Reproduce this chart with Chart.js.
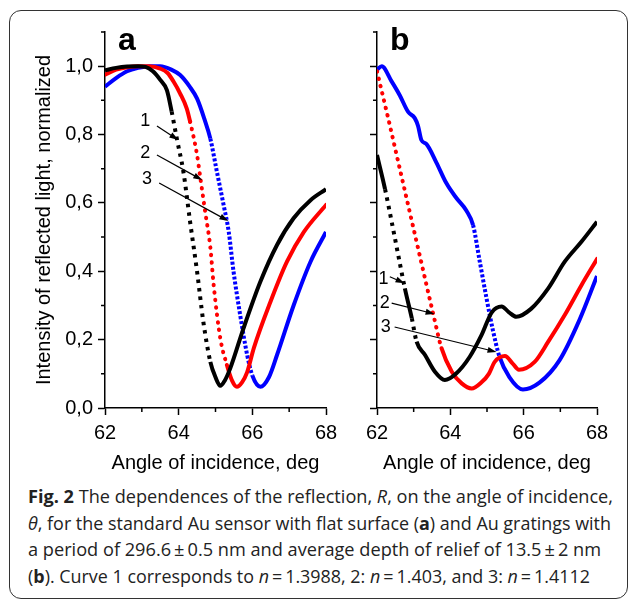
<!DOCTYPE html>
<html>
<head>
<meta charset="utf-8">
<script src="https://cdn.jsdelivr.net/npm/chart.js@4.4.0/dist/chart.umd.min.js"></script>
<style>
body{margin:0;background:#fff;}
#wrap{position:relative;width:630px;height:601px;overflow:hidden;}
#frame{position:absolute;left:9px;top:10px;width:617px;height:587px;border:1.3px solid #333;border-radius:12px;}
#ca{position:absolute;left:0;top:0;}
#cb{position:absolute;left:345px;top:0;}
#caption{position:absolute;left:28px;top:483px;font-family:"Open Sans";font-size:17.6px;line-height:26.5px;color:#222;}
#caption div{white-space:nowrap;transform-origin:0 0;width:max-content;}
</style>
</head>
<body>
<div id="wrap">
  <div id="frame"></div>
  <canvas id="ca" width="345" height="480"></canvas>
  <canvas id="cb" width="285" height="480"></canvas>
  <div id="caption">
    <div><b>Fig. 2</b> The dependences of the reflection, <i>R</i>, on the angle of incidence,</div>
    <div><i>θ</i>, for the standard Au sensor with flat surface (<b>a</b>) and Au gratings with</div>
    <div>a period of 296.6&#8201;±&#8201;0.5 nm and average depth of relief of 13.5&#8201;±&#8201;2 nm</div>
    <div>(<b>b</b>). Curve 1 corresponds to <i>n</i>&#8201;=&#8201;1.3988, 2: <i>n</i>&#8201;=&#8201;1.403, and 3: <i>n</i>&#8201;=&#8201;1.4112</div>
  </div>
</div>
<script>
// panel a : flat Au sensor
var a1X = [62.0, 62.3, 62.6, 62.9, 63.1, 63.3, 63.5, 63.68, 63.81, 63.95, 64.13, 64.31, 64.5, 64.67, 64.86, 65.0, 65.13, 65.25, 65.4, 65.76, 66.22, 66.67, 67.12, 67.58, 68.0];
var a1Y = [0.988, 0.995, 0.999, 1.0, 0.998, 0.985, 0.96, 0.93, 0.867, 0.788, 0.69, 0.545, 0.399, 0.252, 0.135, 0.09, 0.065, 0.08, 0.116, 0.233, 0.37, 0.477, 0.555, 0.608, 0.64];
var a2X = [62.0, 62.3, 62.6, 62.9, 63.2, 63.5, 63.7, 63.86, 64.04, 64.22, 64.31, 64.5, 64.59, 64.72, 64.86, 64.95, 65.13, 65.31, 65.45, 65.58, 65.72, 65.86, 66.04, 66.49, 66.94, 67.4, 68.0];
var a2Y = [0.975, 0.99, 0.997, 1.0, 1.0, 0.993, 0.98, 0.955, 0.92, 0.876, 0.838, 0.74, 0.672, 0.574, 0.47, 0.36, 0.204, 0.126, 0.08, 0.062, 0.075, 0.105, 0.175, 0.31, 0.428, 0.515, 0.594];
var a3X = [62.0, 62.3, 62.6, 62.9, 63.2, 63.5, 63.8, 64.04, 64.3, 64.5, 64.7, 64.86, 65.04, 65.22, 65.36, 65.49, 65.67, 65.86, 66.0, 66.22, 66.45, 66.67, 67.12, 67.58, 68.0];
var a3Y = [0.94, 0.965, 0.985, 0.995, 1.0, 1.0, 0.99, 0.974, 0.94, 0.905, 0.845, 0.788, 0.69, 0.594, 0.515, 0.399, 0.272, 0.155, 0.095, 0.062, 0.09, 0.155, 0.3, 0.428, 0.515];

// panel b : Au gratings
var b1X = [62.0, 62.22, 62.4, 62.58, 62.76, 62.95, 63.08, 63.31, 63.58, 63.85, 64.16, 64.53, 64.85, 65.13, 65.4, 65.6, 65.8, 66.2, 66.67, 67.12, 67.58, 68.0];
var b1Y = [0.74, 0.64, 0.545, 0.447, 0.35, 0.262, 0.194, 0.155, 0.106, 0.082, 0.101, 0.15, 0.213, 0.28, 0.297, 0.28, 0.267, 0.29, 0.35, 0.428, 0.487, 0.545];
var b2X = [62.0, 62.3, 62.6, 62.9, 63.2, 63.54, 63.76, 64.04, 64.31, 64.58, 64.85, 65.05, 65.21, 65.49, 65.7, 65.87, 66.3, 66.67, 67.12, 67.58, 68.0];
var b2Y = [0.985, 0.85, 0.71, 0.57, 0.43, 0.272, 0.175, 0.106, 0.072, 0.057, 0.075, 0.1, 0.135, 0.152, 0.13, 0.112, 0.135, 0.194, 0.272, 0.36, 0.436];
var b3X = [62.0, 62.13, 62.39, 62.62, 62.85, 63.03, 63.12, 63.21, 63.35, 63.62, 63.89, 64.16, 64.44, 64.62, 64.8, 64.98, 65.16, 65.34, 65.61, 65.98, 66.43, 66.98, 67.52, 68.0];
var b3Y = [0.99, 1.0, 0.957, 0.915, 0.866, 0.848, 0.825, 0.784, 0.772, 0.718, 0.658, 0.615, 0.577, 0.535, 0.43, 0.325, 0.228, 0.15, 0.09, 0.054, 0.074, 0.14, 0.257, 0.386];

var xTicks = [62, 64, 66, 68];
var xMinor = [63, 65, 67];
var yTicks = [0, 0.2, 0.4, 0.6, 0.8, 1.0];
var yMinor = [0.1, 0.3, 0.5, 0.7, 0.9, 1.1];

// curve numbers with arrows (label pos, arrow start, arrow tip)
var notesA = [
  {t: '1', lx: 63.09, ly: 0.839, x0: 63.41, y0: 0.825, x1: 63.99, y1: 0.784},
  {t: '2', lx: 63.09, ly: 0.747, x0: 63.41, y0: 0.74, x1: 64.64, y1: 0.667},
  {t: '3', lx: 63.14, ly: 0.67, x0: 63.47, y0: 0.658, x1: 65.35, y1: 0.547}
];
var notesB = [
  {t: '1', lx: 62.18, ly: 0.377, x0: 62.35, y0: 0.384, x1: 62.75, y1: 0.365},
  {t: '2', lx: 62.21, ly: 0.307, x0: 62.4, y0: 0.307, x1: 63.57, y1: 0.275},
  {t: '3', lx: 62.24, ly: 0.237, x0: 62.48, y0: 0.237, x1: 65.26, y1: 0.164}
];

var FONT = 'Liberation Sans';

function pts(xs, ys){
  return xs.map(function(x, i){ return {x: x, y: ys[i]}; });
}

// steep pieces look dotted because the markers separate
function dashWhenSteep(limit, pattern){
  return function(c){
    var dx = Math.abs(c.p1.x - c.p0.x), dy = Math.abs(c.p1.y - c.p0.y);
    return (dy > limit * dx && dy > 16) ? pattern : undefined;
  };
}

function curve(data, color, limit, pattern, cap){
  return {
    data: data,
    showLine: true,
    borderColor: color,
    backgroundColor: color,
    borderWidth: 4,
    borderCapStyle: cap,
    pointRadius: 0,
    cubicInterpolationMode: 'monotone',
    segment: {borderDash: dashWhenSteep(limit, pattern)}
  };
}

var extras = {
  id: 'extras',
  afterDraw: function(chart){
    var o = chart.options.plugins.extras;
    var ctx = chart.ctx, xs = chart.scales.x, ys = chart.scales.y;
    ctx.save();
    ctx.strokeStyle = '#000';
    ctx.lineWidth = 1.5;
    ctx.beginPath();
    xMinor.forEach(function(v){
      var p = xs.getPixelForValue(v);
      ctx.moveTo(p, xs.top); ctx.lineTo(p, xs.top + 4);
    });
    yMinor.forEach(function(v){
      var p = ys.getPixelForValue(v);
      ctx.moveTo(ys.right, p); ctx.lineTo(ys.right - 4, p);
    });
    ctx.stroke();

    ctx.fillStyle = '#000';
    ctx.font = 'bold 32px "' + FONT + '"';
    ctx.textAlign = 'left';
    ctx.textBaseline = 'alphabetic';
    ctx.fillText(o.letter, chart.chartArea.left + 13, 50);

    ctx.font = '18px "' + FONT + '"';
    ctx.textAlign = 'center';
    ctx.textBaseline = 'middle';
    ctx.lineWidth = 1.2;
    o.notes.forEach(function(n){
      ctx.fillText(n.t, xs.getPixelForValue(n.lx), ys.getPixelForValue(n.ly));
      var sx = xs.getPixelForValue(n.x0), sy = ys.getPixelForValue(n.y0);
      var ex = xs.getPixelForValue(n.x1), ey = ys.getPixelForValue(n.y1);
      var ang = Math.atan2(ey - sy, ex - sx);
      ctx.beginPath();
      ctx.moveTo(sx, sy);
      ctx.lineTo(ex - 6 * Math.cos(ang), ey - 6 * Math.sin(ang));
      ctx.stroke();
      ctx.beginPath();
      ctx.moveTo(ex, ey);
      ctx.lineTo(ex - 9 * Math.cos(ang) + 3 * Math.sin(ang), ey - 9 * Math.sin(ang) - 3 * Math.cos(ang));
      ctx.lineTo(ex - 9 * Math.cos(ang) - 3 * Math.sin(ang), ey - 9 * Math.sin(ang) + 3 * Math.cos(ang));
      ctx.closePath();
      ctx.fill();
    });
    ctx.restore();
  }
};

function makeOptions(showY, yWidth, right, letter, notes){
  return {
    responsive: false,
    animation: false,
    layout: {padding: {top: 32, right: right, bottom: 0, left: 0}},
    plugins: {
      legend: {display: false},
      tooltip: {enabled: false},
      extras: {letter: letter, notes: notes}
    },
    scales: {
      x: {
        type: 'linear', min: 62, max: 68,
        afterBuildTicks: function(s){ s.ticks = xTicks.map(function(v){ return {value: v}; }); },
        afterFit: function(s){ s.height = 72; },
        grid: {drawOnChartArea: false, tickLength: 7, tickWidth: 1.5, tickColor: '#000'},
        border: {color: '#000', width: 1.5},
        ticks: {color: '#000', font: {family: FONT, size: 20}, padding: 6, maxRotation: 0, autoSkip: false},
        title: {display: true, text: 'Angle of incidence, deg', color: '#000',
                font: {family: FONT, size: 20}, padding: {top: 0, bottom: 4.6}}
      },
      y: {
        type: 'linear', min: 0, max: 1.1,
        afterBuildTicks: function(s){ s.ticks = yTicks.map(function(v){ return {value: v}; }); },
        afterFit: function(s){ s.width = yWidth; },
        grid: {drawOnChartArea: false, tickLength: 7, tickWidth: 1.5, tickColor: '#000'},
        border: {color: '#000', width: 1.5},
        ticks: {
          color: '#000', font: {family: FONT, size: 20}, padding: 5, autoSkip: false,
          callback: function(v){ return showY ? v.toFixed(1).replace('.', ',') : ''; }
        },
        title: {display: showY, text: 'Intensity of reflected light, normalized', color: '#000',
                font: {family: FONT, size: 20}, padding: {top: 32.6, bottom: 0}}
      }
    }
  };
}

new Chart(document.getElementById('ca'), {
  type: 'scatter',
  data: {datasets: [
    curve(pts(a1X, a1Y), '#000000', 4.5, [3.5, 5], 'butt'),
    curve(pts(a2X, a2Y), '#ff0000', 4, [0.5, 7], 'round'),
    curve(pts(a3X, a3Y), '#0000ff', 3.5, [3, 2], 'butt')
  ]},
  options: makeOptions(true, 105, 19, 'a', notesA),
  plugins: [extras]
});

new Chart(document.getElementById('cb'), {
  type: 'scatter',
  data: {datasets: [
    curve(pts(b1X, b1Y), '#000000', 4.5, [3.5, 5], 'butt'),
    curve(pts(b2X, b2Y), '#ff0000', 4, [0.5, 7], 'round'),
    curve(pts(b3X, b3Y), '#0000ff', 3.5, [3, 2], 'butt')
  ]},
  options: makeOptions(false, 32, 33, 'b', notesB),
  plugins: [extras]
});

// squeeze caption lines to the widths in the figure
var captionWidths = [585, 583, 573, 562];
document.querySelectorAll('#caption div').forEach(function(el, i){
  var w = el.getBoundingClientRect().width;
  el.style.transform = 'scaleX(' + (captionWidths[i] / w) + ')';
});
</script>
</body>
</html>
